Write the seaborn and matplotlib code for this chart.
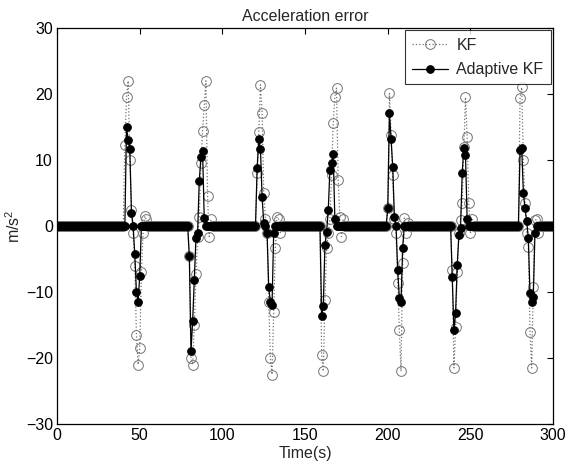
import numpy as np
import pandas as pd
import matplotlib
matplotlib.use("Agg")
import matplotlib.pyplot as plt
import seaborn as sns

# time axis (s)
time_s = np.arange(0, 301)

# event start times and values (baseline is 0)
event_starts = [41, 80, 121, 160, 200, 239, 280]
kf_events = [
    [12.3, 19.5, 22, 10, 2.5, -1, -6, -16.5, -21, -18.5, -7, -1, 1.5, 1],
    [-4.6, -20, -21, -15, -7.3, -1.6, 1.4, 9.6, 14.4, 18.3, 22, 4.6, -1.6, 1],
    [8, 14.3, 21.4, 17.2, 5, 1, -1, -11.5, -20, -22.5, -13, -3.3, 1.4, 1, -1],
    [-19.5, -22, -11.2, -3.3, -1, 1, 7.7, 15.6, 19.6, 20.9, 7, 1.4, -1.6, 1],
    [2.7, 20.1, 13.8, 7.7, 1, -1, -8.6, -15.8, -22, -5.6, 1.2, -1, 0.5],
    [-6.7, -21.5, -15.3, -7, -1, 0.9, 3.5, 12, 19.5, 13.5, 3.5, -1.1, 1],
    [19.4, 21, 10, 3.5, -1, -3.1, -16, -21.5, -9.2, 0.9, 1, -1],
]
akf_events = [
    [0, 15, 13, 11.7, 2, 0, -4.3, -10, -11.5, -7.5, 0],
    [-4.6, -19, -14.4, -8.2, -1.8, -1, 6.9, 10.5, 11.3, 1.2, 0],
    [8.8, 13.2, 11.7, 4.4, 0.4, 0, -1, -9.3, -11.5, -12, -1, 0],
    [-13.7, -12.1, -2.9, -0.9, 2.4, 8.5, 9.5, 10.9, 1, 0],
    [2.7, 17.1, 13.2, 8.9, 1.4, 0, -6.7, -10.9, -11.5, -3.3, 0],
    [-7.7, -15.8, -13.2, -5.9, -1.4, -0.3, 8, 11.9, 10.8, 1, 0],
    [11.5, 11.8, 5, 2.7, 0.7, -1.8, -10.2, -11.5, -10.7, -1, 0],
]

kf = np.zeros(len(time_s))
akf = np.zeros(len(time_s))
for t0, ev in zip(event_starts, kf_events):
    kf[t0:t0 + len(ev)] = ev
for t0, ev in zip(event_starts, akf_events):
    akf[t0:t0 + len(ev)] = ev

df = pd.DataFrame({"t": time_s, "KF": kf, "Adaptive KF": akf})

sns.set_theme(style="white")
plt.rcParams["font.family"] = ["Liberation Sans", "DejaVu Sans"]
plt.rcParams["mathtext.fontset"] = "custom"
plt.rcParams["mathtext.rm"] = "Liberation Sans"
plt.rcParams["mathtext.it"] = "Liberation Sans"

fig = plt.figure(figsize=(5.65, 4.68), dpi=100)
ax = fig.add_axes([0.101, 0.094, 0.878, 0.846])

sns.lineplot(data=df, x="t", y="KF", ax=ax, color="0.45", linestyle=":",
             linewidth=0.9, marker="o", markersize=7, markerfacecolor="none",
             markeredgecolor="0.45", markeredgewidth=0.7, label="KF")
sns.lineplot(data=df, x="t", y="Adaptive KF", ax=ax, color="black", linestyle="-",
             linewidth=0.9, marker="o", markersize=5.5, markerfacecolor="black",
             markeredgecolor="black", label="Adaptive KF")

ax.set_xlim(0, 300)
ax.set_ylim(-30, 30)
ax.set_xticks(range(0, 301, 50))
ax.set_yticks(range(-30, 31, 10))
ax.tick_params(direction="in", length=4, width=0.8, top=True, right=True,
               labelsize=11.5, colors="black", pad=3)
for s in ax.spines.values():
    s.set_color("black")
    s.set_linewidth(0.9)
ax.set_title("Acceleration error", fontsize=11.5, pad=5)
ax.set_xlabel("Time(s)", fontsize=11.5, labelpad=2)
ax.set_ylabel("m/s$^2$", fontsize=11.5, labelpad=2)

leg = ax.legend(loc="upper right", fontsize=11.5, frameon=True, fancybox=False,
                edgecolor="black", borderaxespad=0.15, handlelength=2.3,
                borderpad=0.45, labelspacing=0.6, handletextpad=0.5)
leg.get_frame().set_linewidth(0.8)

fig.savefig("out.png", dpi=100, facecolor="white")
